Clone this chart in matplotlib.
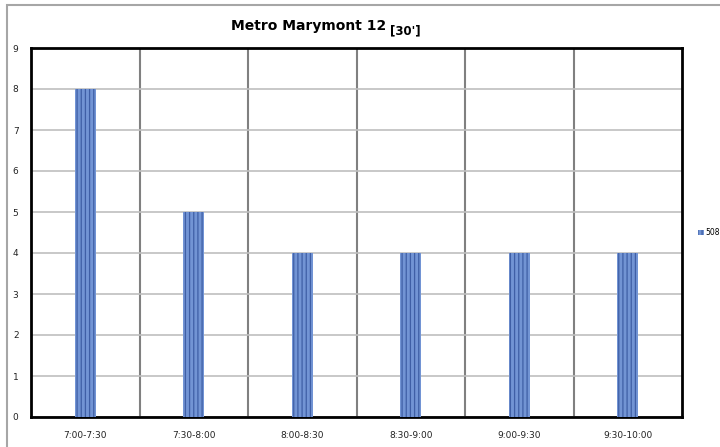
import matplotlib.pyplot as plt
from matplotlib.patches import Rectangle

# dane
przedzialy = ['7:00-7:30', '7:30-8:00', '8:00-8:30', '8:30-9:00', '9:00-9:30', '9:30-10:00']
kursy_508 = [8, 5, 4, 4, 4, 4]
seria = '508'

plt.rcParams['hatch.linewidth'] = 0.9

fig = plt.figure(figsize=(7.2, 4.47), dpi=100)
ax = fig.add_axes([31 / 720, 1 - 417 / 447, 651 / 720, 369 / 447])

# ramka wykresu
fig.patches.append(Rectangle((7 / 720, -0.05), 1.0, 1 - 5 / 447 + 0.05,
                             transform=fig.transFigure, fill=False,
                             edgecolor='#a6a6a6', linewidth=1.5))

x = list(range(len(przedzialy)))
ax.bar(x, kursy_508, width=0.19, color='#7294d4', edgecolor='#3f5fa6',
       hatch='||||', linewidth=0, label=seria, zorder=3)

ax.set_xlim(-0.5, len(przedzialy) - 0.5)
ax.set_ylim(0, 9)
ax.set_yticks(range(10))
ax.set_xticks(x)
ax.set_xticklabels(przedzialy)
ax.tick_params(length=0, labelsize=6.5, colors='#222222')
ax.tick_params(axis='x', pad=10)
ax.tick_params(axis='y', pad=9)

ax.grid(axis='y', color='#bfbfbf', linewidth=1.2, zorder=0)
for b in range(1, len(przedzialy)):
    ax.axvline(b - 0.5, color='#808080', linewidth=1.5, zorder=1)
for s in ax.spines.values():
    s.set_linewidth(2)
    s.set_color('black')

# tytul
fig.text(386 / 720, 1 - 30 / 447, 'Metro Marymont 12', ha='right', va='baseline',
         fontsize=10, fontweight='bold')
fig.text(390 / 720, 1 - 34 / 447, "[30']", ha='left', va='baseline',
         fontsize=8.5, fontweight='bold')

ax.legend(loc='center left', bbox_to_anchor=(1.018, 0.5), frameon=False,
          fontsize=5.5, handlelength=0.8, handleheight=0.6, handletextpad=0.2,
          borderpad=0)

fig.savefig('out.png')
